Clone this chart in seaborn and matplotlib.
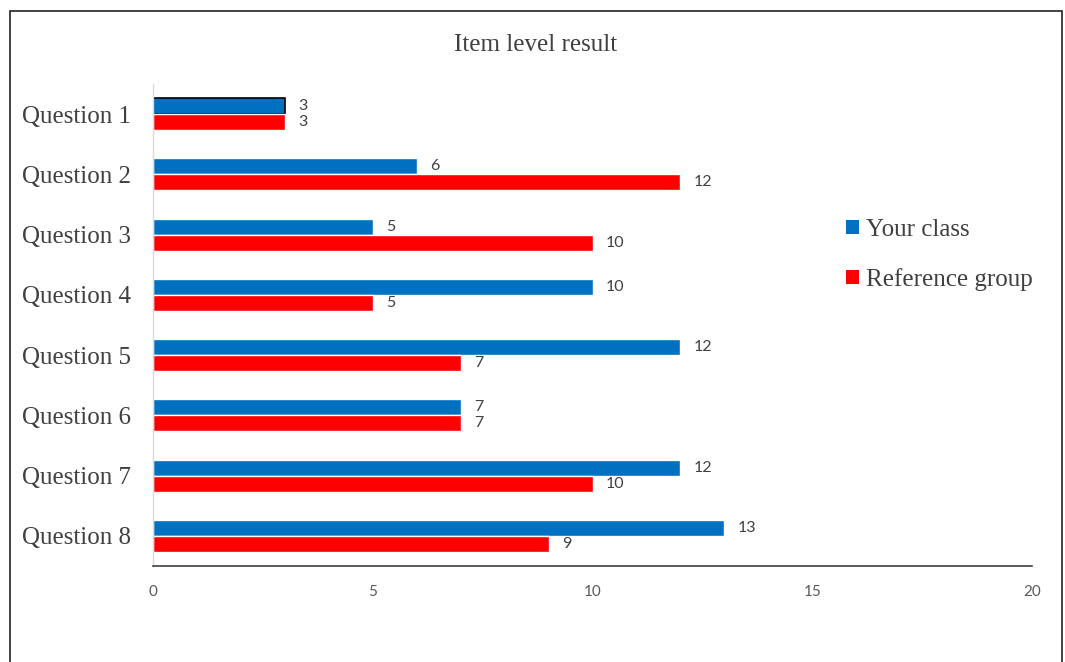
import pandas as pd
import matplotlib.pyplot as plt
import seaborn as sns
from matplotlib.patches import Patch, Rectangle

# chart values
questions = ["Question 1", "Question 2", "Question 3", "Question 4",
             "Question 5", "Question 6", "Question 7", "Question 8"]
your_class = [3, 6, 5, 10, 12, 7, 12, 13]
reference_group = [3, 12, 10, 5, 7, 7, 10, 9]
series_names = ["Your class", "Reference group"]
x_ticks = [0, 5, 10, 15, 20]

data = pd.DataFrame({
    "question": questions * 2,
    "value": your_class + reference_group,
    "group": [series_names[0]] * len(questions) + [series_names[1]] * len(questions),
})

colors = {"Your class": "#0070C0", "Reference group": "#FF0000"}

sns.set_style("white")
plt.rcParams["font.family"] = ["Liberation Serif", "DejaVu Serif"]

fig = plt.figure(figsize=(10.65, 6.62), dpi=100)
ax = fig.add_axes([0.1437, 0.145, 0.8253, 0.728])

sns.barplot(data=data, x="value", y="question", hue="group", orient="h",
            palette=colors, width=0.53, saturation=1, legend=False, ax=ax)

# the first bar has a thin dark outline in the original
ax.patches[0].set_edgecolor("black")
ax.patches[0].set_linewidth(1.2)

for cont in ax.containers:
    ax.bar_label(cont, padding=9.5, fontsize=11.5, color="#404040", family="Lato")

ax.set_xlim(0, 20)
ax.set_xticks(x_ticks)
ax.set_xticklabels([str(t) for t in x_ticks], family="Lato", fontsize=11, color="#595959")
ax.tick_params(axis="x", length=0, pad=14)
ax.tick_params(axis="y", length=0, pad=16, labelsize=18, labelcolor="#404040")
ax.set_xlabel("")
ax.set_ylabel("")

for side in ["top", "right"]:
    ax.spines[side].set_visible(False)
ax.spines["bottom"].set_color("#404040")
ax.spines["bottom"].set_linewidth(1.2)
ax.spines["left"].set_color("#D9D9D9")
ax.spines["left"].set_linewidth(1)

fig.text(0.503, 0.932, "Item level result", ha="center", va="center",
         fontsize=18, color="#404040")

handles = [Patch(facecolor=colors[n], edgecolor="none") for n in series_names]
fig.legend(handles, series_names, loc="center left", bbox_to_anchor=(0.7735, 0.615),
           frameon=False, fontsize=18, labelcolor="#404040", handlelength=0.5,
           handleheight=0.5, handletextpad=0.3, labelspacing=1.1)

# outer frame of the chart
fig.patches.append(Rectangle((10 / 1065, -0.05), 1052 / 1065, 1.05 - 11 / 662,
                             transform=fig.transFigure, fill=False,
                             edgecolor="#222222", linewidth=1.2))

fig.savefig("out.png", dpi=100)
